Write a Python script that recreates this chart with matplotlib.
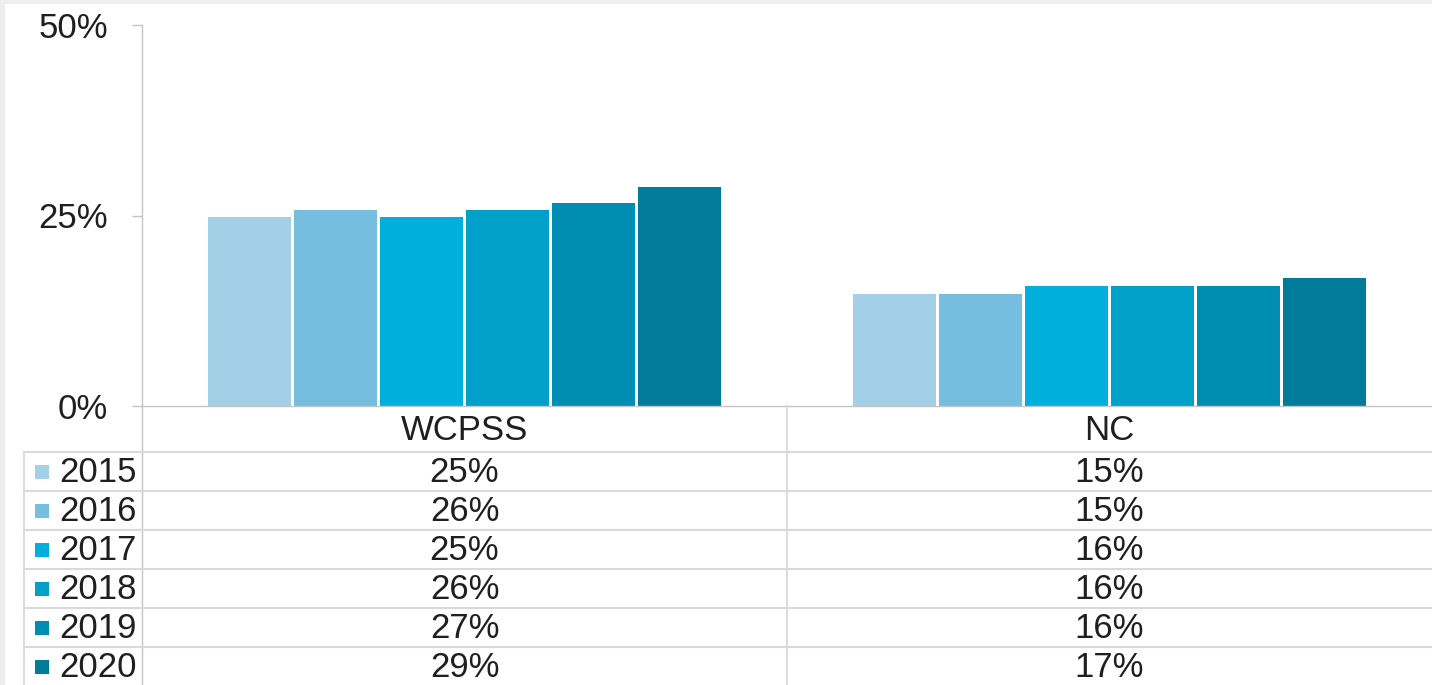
import matplotlib.pyplot as plt
from matplotlib.patches import Rectangle
import numpy as np

plt.rcParams['font.family'] = ['Liberation Sans', 'DejaVu Sans']

groups = ['WCPSS', 'NC']
years = ['2015', '2016', '2017', '2018', '2019', '2020']
wcpss = [24.8, 25.7, 24.8, 25.7, 26.7, 28.7]
nc = [14.7, 14.7, 15.7, 15.7, 15.7, 16.8]
colors = ['#A2D0E7', '#76BEE0', '#00AFDB', '#01A0C8', '#008DB3', '#007B9A']
yticks = [0, 25, 50]

W, H = 1432, 685
txt = '#1F1F1F'
grid = '#D9D9D9'
axcol = '#C4C4C4'
fs = 25

fig = plt.figure(figsize=(W/100, H/100), dpi=100, facecolor='#EEEEEE')
fig.patches.append(Rectangle((5/W, 0), 1, (H-4)/H, transform=fig.transFigure,
                             facecolor='white', edgecolor='none', zorder=-10))

# bar chart
ax = fig.add_axes([142/W, (H-406)/H, (W-142)/W, 381/H])
ax.set_facecolor('none')
x = np.arange(len(groups))
group_w = 0.8
bw = group_w / len(years)
for i, yr in enumerate(years):
    ax.bar(x - group_w/2 + bw*(i+0.5), [wcpss[i], nc[i]], width=bw*0.965,
           color=colors[i], zorder=2)
ax.set_xlim(-0.5, len(groups)-0.5)
ax.set_ylim(0, 50)
ax.set_yticks(yticks)
ax.set_yticklabels([f'{t}%' for t in yticks], fontsize=fs, color=txt)
ax.tick_params(axis='y', length=7.5, width=1, color=axcol, pad=17)
ax.set_xticks([])
for s in ['top', 'right']:
    ax.spines[s].set_visible(False)
for s in ['left', 'bottom']:
    ax.spines[s].set_color(axcol)
    ax.spines[s].set_linewidth(1)

# data table below, drawn in pixel coordinates
tb = fig.add_axes([0, 0, 1, 1])
tb.set_xlim(0, W)
tb.set_ylim(H, 0)
tb.axis('off')

def px(xd):
    return ax.transData.transform((xd, 0))[0]

head_top, head_bot = 406, 452
row_h = 39
left = 24
tb.plot([142, 142], [406, H], color=axcol, lw=1)
tb.plot([px(0.5), px(0.5)], [head_top, H], color=grid, lw=1.3)
tb.plot([left, left], [head_bot, H], color=grid, lw=1.3)
for r in range(len(years)):
    y = head_bot + r*row_h
    tb.plot([left, W], [y, y], color=grid, lw=1.5)

for j, g in enumerate(groups):
    tb.text(px(j), (head_top+head_bot)/2 + 1, g, ha='center', va='center',
            fontsize=fs, color=txt)

for r, yr in enumerate(years):
    yc = head_bot + row_h*(r+0.5)
    tb.add_patch(Rectangle((35, yc-7), 14, 14, facecolor=colors[r], edgecolor='none'))
    tb.text(59, yc+1, yr, ha='left', va='center', fontsize=fs, color=txt)
    for j, vals in enumerate([wcpss, nc]):
        tb.text(px(j), yc+1, f'{round(vals[r])}%', ha='center', va='center',
                fontsize=fs, color=txt)

fig.savefig('out.png', dpi=100, facecolor=fig.get_facecolor())
